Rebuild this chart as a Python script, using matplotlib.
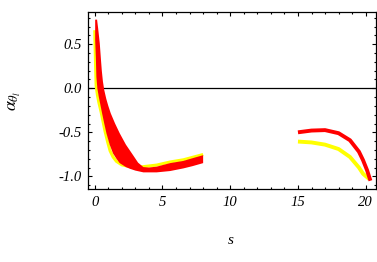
import matplotlib
matplotlib.use("Agg")
import matplotlib.pyplot as plt
from matplotlib.ticker import MultipleLocator, FormatStrFormatter

plt.rcParams['font.family'] = ['Liberation Serif', 'DejaVu Serif']
plt.rcParams['font.style'] = 'italic'
plt.rcParams['mathtext.fontset'] = 'stix'

##
# band on the left (red) : upper edge and lower edge
##
s_upper = [0.03, 0.17, 0.25, 0.37, 0.45, 0.52, 0.6, 0.7, 0.85, 1.0, 1.18, 1.5, 1.84, 2.3, 2.83,
           3.2, 3.59, 4.0, 4.57, 5.56, 6.54, 7.2, 8.0]
band_upper = [0.78, 0.78, 0.68, 0.51, 0.34, 0.20, 0.08, -0.02, -0.12, -0.20, -0.284, -0.40, -0.51,
              -0.64, -0.76, -0.845, -0.895, -0.90, -0.89, -0.85, -0.825, -0.795, -0.76]
s_lower = [0.03, 0.08, 0.12, 0.19, 0.3, 0.54, 0.7, 0.86, 1.1, 1.35, 1.6, 1.84, 2.3, 2.61,
           3.0, 3.59, 4.57, 5.56, 6.54, 7.2, 8.0]
band_lower = [0.55, 0.35, 0.13, 0.0, -0.1, -0.284, -0.40, -0.51, -0.64, -0.74, -0.80, -0.85, -0.895,
              -0.915, -0.935, -0.955, -0.955, -0.94, -0.91, -0.885, -0.85]

# yellow curve, left part
s_yel_left = [0.0, 0.02, 0.06, 0.1, 0.2, 0.3, 0.47, 0.6, 0.76, 0.95, 1.13, 1.35, 1.6, 2.0,
              2.6, 3.2, 3.59, 4.57, 5.56, 6.54, 8.0]
yel_left = [0.66, 0.50, 0.25, 0.03, -0.08, -0.16, -0.27, -0.37, -0.49, -0.61, -0.71, -0.78, -0.83, -0.87,
            -0.89, -0.895, -0.89, -0.872, -0.837, -0.812, -0.752]

# right part
s_red_right = [15.0, 16.0, 17.0, 18.0, 18.84, 19.5, 19.8, 20.1, 20.35]
red_right = [-0.50, -0.48, -0.475, -0.51, -0.59, -0.72, -0.815, -0.93, -1.05]
s_yel_right = [15.0, 16.0, 17.0, 18.0, 18.84, 19.5, 19.8, 20.25]
yel_right = [-0.605, -0.615, -0.64, -0.69, -0.78, -0.90, -0.97, -1.03]

fig = plt.figure(figsize=(3.77, 2.62), dpi=100)
ax = fig.add_axes([0.2334, 0.2786, 0.9966 - 0.2334, 0.9553 - 0.2786])

ax.axhline(0, color='black', lw=0.9, zorder=1)

ax.plot(s_yel_left, yel_left, color='#ffff00', lw=2.2, solid_capstyle='butt', zorder=2)
ax.fill(s_upper + s_lower[::-1], band_upper + band_lower[::-1], color='#ff0000', lw=0, zorder=3)
ax.plot(s_yel_right, yel_right, color='#ffff00', lw=2.8, solid_capstyle='butt', zorder=2)
ax.plot(s_red_right, red_right, color='#ff0000', lw=2.8, solid_capstyle='butt', zorder=3)

ax.set_xlim(-0.5, 20.74)
ax.set_ylim(-1.144, 0.87)

ax.xaxis.set_major_locator(MultipleLocator(5))
ax.xaxis.set_minor_locator(MultipleLocator(1))
ax.yaxis.set_major_locator(MultipleLocator(0.5))
ax.yaxis.set_minor_locator(MultipleLocator(0.1))
ax.yaxis.set_major_formatter(FormatStrFormatter('%.1f'))

ax.tick_params(which='both', direction='in', top=True, right=True, width=0.8,
               labelsize=10.5, colors='black')
ax.tick_params(which='major', length=3.0)
ax.tick_params(which='minor', length=1.6)
ax.tick_params(axis='y', pad=4.5)
ax.tick_params(axis='x', pad=5)
for sp in ax.spines.values():
    sp.set_linewidth(0.9)

ax.set_xlabel('s', fontsize=11)
ax.xaxis.set_label_coords(0.496, -0.29)
ax.xaxis.label.set_va('center')
ax.set_ylabel(r'$\alpha_{\theta_l}$', fontsize=13)
ax.yaxis.set_label_coords(-0.257, 0.5)
ax.yaxis.label.set_va('center')

fig.savefig('out.png', dpi=100)
